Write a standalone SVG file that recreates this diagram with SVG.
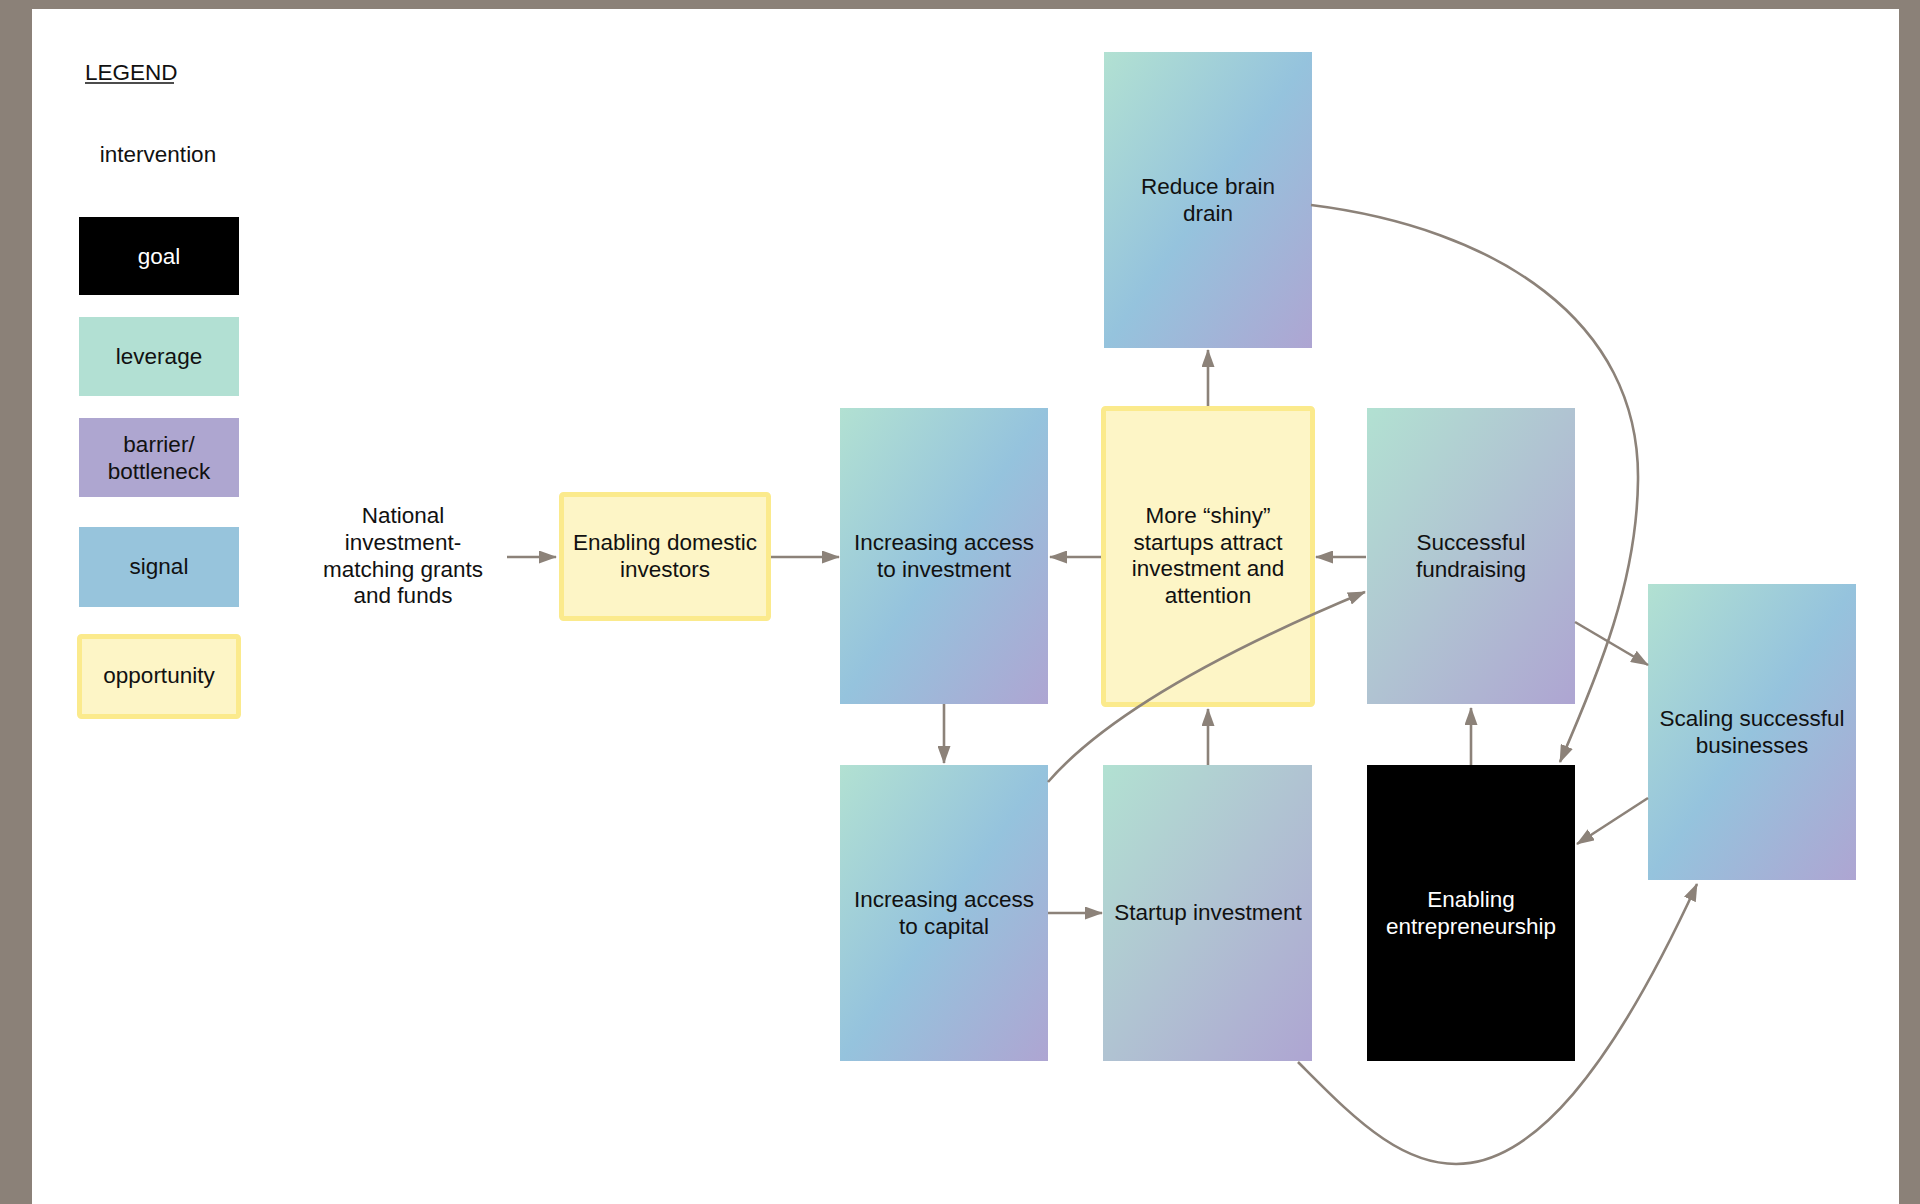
<svg xmlns="http://www.w3.org/2000/svg" width="1920" height="1204" viewBox="0 0 1920 1204">
  <style>
    .t { font-family: "Liberation Sans", Arial, Helvetica, sans-serif; font-size: 22.5px; fill: #111111; text-anchor: middle; }
    .w { fill: #ffffff; }
    .link { fill: none; stroke: #8c8279; stroke-width: 2.6; }
    .arr { marker-end: url(#head); }
    .opp { fill: #fdf5c6; stroke: #fbea8c; stroke-width: 5; }
  </style>
  <defs>
    <linearGradient id="tealBluePurple" x1="0" y1="0" x2="1" y2="1">
      <stop offset="0" stop-color="#b2e1d2"/>
      <stop offset="0.5" stop-color="#95c3dd"/>
      <stop offset="1" stop-color="#aea5d2"/>
    </linearGradient>
    <linearGradient id="tealPurple" x1="0" y1="0" x2="1" y2="1">
      <stop offset="0" stop-color="#b2e1d2"/>
      <stop offset="1" stop-color="#aea5d2"/>
    </linearGradient>
    <marker id="head" markerUnits="userSpaceOnUse" markerWidth="18" markerHeight="13" refX="17" refY="6.5" orient="auto">
      <path d="M0,0 L18,6.5 L0,13 z" fill="#8c8279"/>
    </marker>
  </defs>

  <!-- frame and page -->
  <rect x="0" y="0" width="1920" height="1204" fill="#8b8178"/>
  <rect x="32" y="9" width="1867" height="1195" fill="#ffffff"/>

  <!-- legend -->
  <g id="legend">
    <text class="t" x="85" y="80" style="text-anchor:start">LEGEND</text>
    <line x1="85" y1="83" x2="174" y2="83" stroke="#111111" stroke-width="1.3"/>
    <text class="t" x="158" y="162">intervention</text>
    <rect x="79" y="217" width="160" height="78" fill="#000000"/>
    <text class="t w" x="159" y="264">goal</text>
    <rect x="79" y="317" width="160" height="79" fill="#b2e0d3"/>
    <text class="t" x="159" y="364">leverage</text>
    <rect x="79" y="418" width="160" height="79" fill="#aea6d0"/>
    <text class="t" x="159" y="452">barrier/</text>
    <text class="t" x="159" y="479">bottleneck</text>
    <rect x="79" y="527" width="160" height="80" fill="#97c4dc"/>
    <text class="t" x="159" y="574">signal</text>
    <rect class="opp" x="79.5" y="636.5" width="159" height="80" rx="2"/>
    <text class="t" x="159" y="683">opportunity</text>
  </g>

  <!-- nodes -->
  <g id="national-grants">
    <text class="t" x="403" y="523">National</text>
    <text class="t" x="403" y="550">investment-</text>
    <text class="t" x="403" y="577">matching grants</text>
    <text class="t" x="403" y="603">and funds</text>
  </g>

  <g id="enabling-domestic-investors">
    <rect class="opp" x="561.5" y="494.5" width="207" height="124" rx="2"/>
    <text class="t" x="665" y="550">Enabling domestic</text>
    <text class="t" x="665" y="577">investors</text>
  </g>

  <g id="reduce-brain-drain">
    <rect x="1104" y="52" width="208" height="296" fill="url(#tealBluePurple)"/>
    <text class="t" x="1208" y="194">Reduce brain</text>
    <text class="t" x="1208" y="221">drain</text>
  </g>

  <g id="access-to-investment">
    <rect x="840" y="408" width="208" height="296" fill="url(#tealBluePurple)"/>
    <text class="t" x="944" y="550">Increasing access</text>
    <text class="t" x="944" y="577">to investment</text>
  </g>

  <g id="shiny-startups">
    <rect class="opp" x="1103.5" y="408.5" width="209" height="296" rx="2"/>
    <text class="t" x="1208" y="523">More “shiny”</text>
    <text class="t" x="1208" y="550">startups attract</text>
    <text class="t" x="1208" y="576">investment and</text>
    <text class="t" x="1208" y="603">attention</text>
  </g>

  <g id="successful-fundraising">
    <rect x="1367" y="408" width="208" height="296" fill="url(#tealPurple)"/>
    <text class="t" x="1471" y="550">Successful</text>
    <text class="t" x="1471" y="577">fundraising</text>
  </g>

  <g id="scaling-businesses">
    <rect x="1648" y="584" width="208" height="296" fill="url(#tealBluePurple)"/>
    <text class="t" x="1752" y="726">Scaling successful</text>
    <text class="t" x="1752" y="753">businesses</text>
  </g>

  <g id="access-to-capital">
    <rect x="840" y="765" width="208" height="296" fill="url(#tealBluePurple)"/>
    <text class="t" x="944" y="907">Increasing access</text>
    <text class="t" x="944" y="934">to capital</text>
  </g>

  <g id="startup-investment">
    <rect x="1103" y="765" width="209" height="296" fill="url(#tealPurple)"/>
    <text class="t" x="1208" y="920">Startup investment</text>
  </g>

  <g id="enabling-entrepreneurship">
    <rect x="1367" y="765" width="208" height="296" fill="#000000"/>
    <text class="t w" x="1471" y="907">Enabling</text>
    <text class="t w" x="1471" y="934">entrepreneurship</text>
  </g>

  <!-- connectors -->
  <g id="connectors">
    <path class="link arr" d="M507,557 L556,557"/>
    <path class="link arr" d="M771,557 L839,557"/>
    <path class="link arr" d="M1101,557 L1050,557"/>
    <path class="link arr" d="M1366,557 L1316,557"/>
    <path class="link arr" d="M944,704 L944,763"/>
    <path class="link arr" d="M1208,406 L1208,350"/>
    <path class="link arr" d="M1208,765 L1208,709"/>
    <path class="link arr" d="M1048,913 L1102,913"/>
    <path class="link arr" d="M1471,765 L1471,708"/>
    <path class="link arr" d="M1575,622 L1648,665"/>
    <path class="link arr" d="M1648,798 L1577,844"/>
    <path class="link arr" d="M1048,782 Q1127,691 1365,592"/>
    <path class="link arr" d="M1311,205 C1495,228 1640,320 1638,480 C1637,580 1600,670 1560,762"/>
    <path class="link arr" d="M1298,1062 C1400,1164 1510,1290 1697,884"/>
  </g>
</svg>
